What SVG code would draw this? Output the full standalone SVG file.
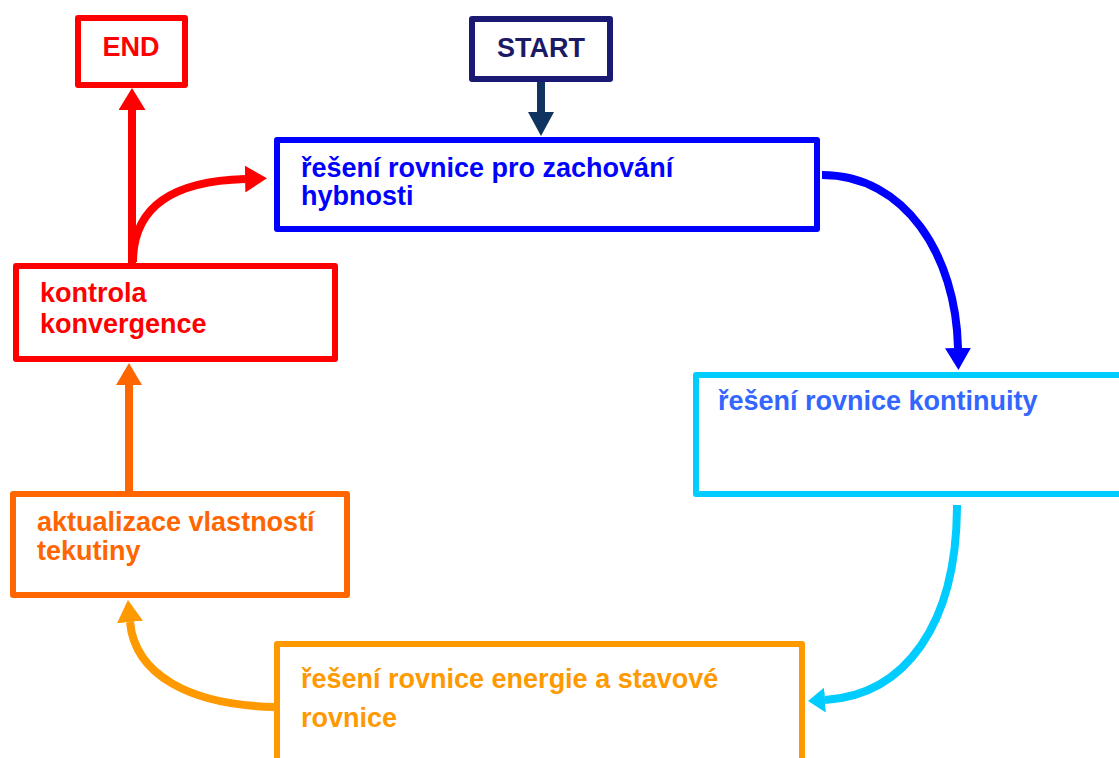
<svg xmlns="http://www.w3.org/2000/svg" width="1119" height="758" viewBox="0 0 1119 758">
<style>
.box{fill:#ffffff;stroke-width:6;stroke-linejoin:round}
.t{font-family:"Liberation Sans",Arial,sans-serif;font-weight:bold;font-size:27px}
.c{fill:none;stroke-width:8}
</style>
<defs>
<marker id="hNavy" markerUnits="userSpaceOnUse" markerWidth="24" markerHeight="26" refX="0" refY="13" orient="auto" viewBox="0 0 24 26"><path d="M0,0 L24,13 L0,26 z" fill="#0f3460"/></marker>
<marker id="hRed" markerUnits="userSpaceOnUse" markerWidth="22" markerHeight="27" refX="0" refY="13.5" orient="auto" viewBox="0 0 22 27"><path d="M0,0 L22,13.5 L0,27 z" fill="#ff0000"/></marker>
<marker id="hBlue" markerUnits="userSpaceOnUse" markerWidth="22" markerHeight="26" refX="0" refY="13" orient="auto" viewBox="0 0 22 26"><path d="M0,0 L22,13 L0,26 z" fill="#0000ff"/></marker>
<marker id="hCyan" markerUnits="userSpaceOnUse" markerWidth="17" markerHeight="25" refX="0" refY="12.5" orient="auto" viewBox="0 0 17 25"><path d="M0,0 L17,12.5 L0,25 z" fill="#00ccff"/></marker>
<marker id="hOrange" markerUnits="userSpaceOnUse" markerWidth="22" markerHeight="26" refX="0" refY="13" orient="auto" viewBox="0 0 22 26"><path d="M0,0 L22,13 L0,26 z" fill="#ff6600"/></marker>
<marker id="hAmber" markerUnits="userSpaceOnUse" markerWidth="22" markerHeight="26" refX="0" refY="13" orient="auto" viewBox="0 0 22 26"><path d="M0,0 L22,13 L0,26 z" fill="#ff9900"/></marker>
</defs>
<rect width="1119" height="758" fill="#ffffff"/>

<g id="connectors">
<path class="c" d="M541,82 L541,112" stroke="#0f3460" stroke-width="9" marker-end="url(#hNavy)"/>
<path class="c" d="M132,263 L132,110" stroke="#ff0000" marker-end="url(#hRed)"/>
<path class="c" d="M133,262 C133,205 175,181 245,179" stroke="#ff0000" stroke-width="9" marker-end="url(#hRed)"/>
<path class="c" d="M822,175 C905,175 956,255 958,348" stroke="#0000ff" marker-end="url(#hBlue)"/>
<path class="c" d="M957,505 C957,625 905,695 825,700" stroke="#00ccff" stroke-width="6" marker-end="url(#hCyan)"/>
<path class="c" d="M129,491 L129,385" stroke="#ff6600" marker-end="url(#hOrange)"/>
<path class="c" d="M274,707 C190,705 135,675 130,622" stroke="#ff9900" marker-end="url(#hAmber)"/>
</g>

<g id="end">
<rect class="box" x="78" y="18" width="107" height="67" stroke="#ff0000"/>
<text class="t" x="131" y="56" text-anchor="middle" fill="#ff0000" font-size="25">END</text>
</g>

<g id="start">
<rect class="box" x="472" y="19" width="138" height="60" stroke="#1a1a72"/>
<text class="t" x="541" y="57" text-anchor="middle" fill="#1a1a66">START</text>
</g>

<g id="hybnost">
<rect class="box" x="277" y="140" width="540" height="89" stroke="#0000ff"/>
<text class="t" fill="#0000ff"><tspan x="301" y="177">řešení rovnice pro zachování</tspan><tspan x="301" y="205">hybnosti</tspan></text>
</g>

<g id="kontrola">
<rect class="box" x="16" y="266" width="319" height="93" stroke="#ff0000"/>
<text class="t" fill="#ff0000"><tspan x="40" y="302">kontrola</tspan><tspan x="40" y="333">konvergence</tspan></text>
</g>

<g id="kontinuita">
<rect class="box" x="696" y="375" width="440" height="119" stroke="#00ccff"/>
<text class="t" x="718" y="410" fill="#3366ff">řešení rovnice kontinuity</text>
</g>

<g id="aktualizace">
<rect class="box" x="13" y="494" width="334" height="101" stroke="#ff6600"/>
<text class="t" fill="#ff6600"><tspan x="37" y="531">aktualizace vlastností</tspan><tspan x="37" y="560">tekutiny</tspan></text>
</g>

<g id="energie">
<rect class="box" x="277" y="644" width="525" height="130" stroke="#ff9900"/>
<text class="t" fill="#ff9900" font-size="27.5"><tspan x="301" y="688">řešení rovnice energie a stavové</tspan><tspan x="301" y="727">rovnice</tspan></text>
</g>
</svg>
